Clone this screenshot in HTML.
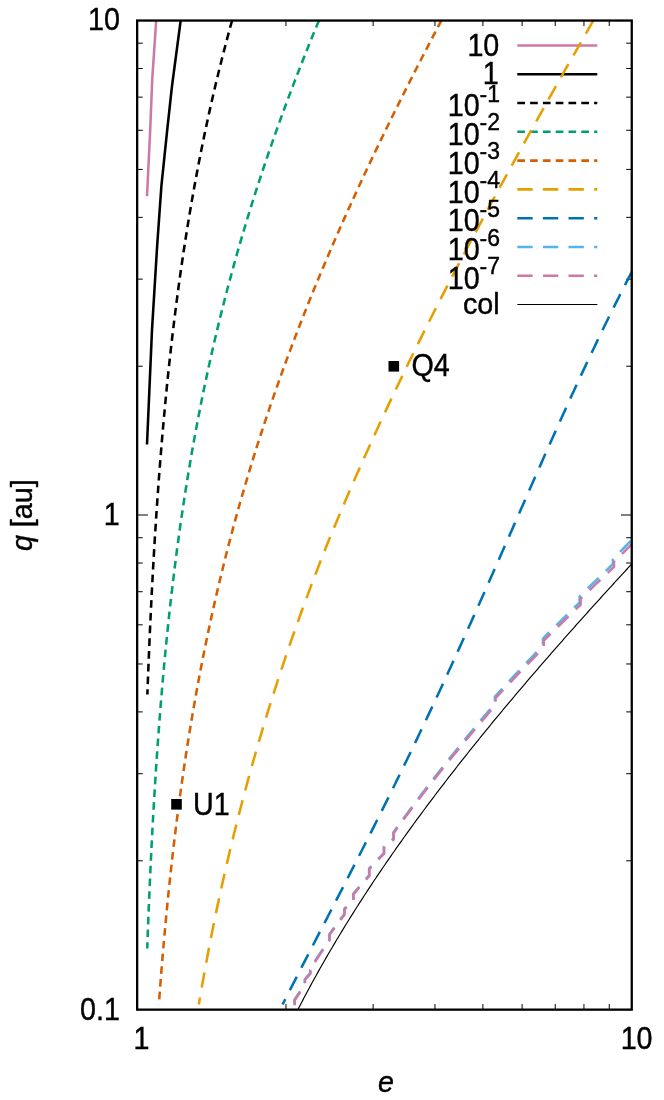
<!DOCTYPE html>
<html><head><meta charset="utf-8"><title>plot</title>
<style>html,body{margin:0;padding:0;background:#fff;}body{width:664px;height:1100px;overflow:hidden;position:relative;font-family:"Liberation Sans",sans-serif;}</style></head>
<body>
<svg width="664" height="1100" viewBox="0 0 664 1100" style="position:absolute;left:0;top:0;will-change:transform">
<rect width="664" height="1100" fill="#fff"/>
<path d="M285.98,1009.8 v-5.7 M285.98,20.4 v5.7 M373.13,1009.8 v-5.7 M373.13,20.4 v5.7 M434.96,1009.8 v-5.7 M434.96,20.4 v5.7 M482.92,1009.8 v-5.7 M482.92,20.4 v5.7 M522.11,1009.8 v-5.7 M522.11,20.4 v5.7 M555.24,1009.8 v-5.7 M555.24,20.4 v5.7 M583.94,1009.8 v-5.7 M583.94,20.4 v5.7 M609.25,1009.8 v-5.7 M609.25,20.4 v5.7 M137.0,860.78 h5.7 M631.9,860.78 h-5.7 M137.0,773.69 h5.7 M631.9,773.69 h-5.7 M137.0,711.90 h5.7 M631.9,711.90 h-5.7 M137.0,663.97 h5.7 M631.9,663.97 h-5.7 M137.0,624.82 h5.7 M631.9,624.82 h-5.7 M137.0,591.71 h5.7 M631.9,591.71 h-5.7 M137.0,563.03 h5.7 M631.9,563.03 h-5.7 M137.0,537.73 h5.7 M631.9,537.73 h-5.7 M137.0,366.23 h5.7 M631.9,366.23 h-5.7 M137.0,279.14 h5.7 M631.9,279.14 h-5.7 M137.0,217.35 h5.7 M631.9,217.35 h-5.7 M137.0,169.42 h5.7 M631.9,169.42 h-5.7 M137.0,130.27 h5.7 M631.9,130.27 h-5.7 M137.0,97.16 h5.7 M631.9,97.16 h-5.7 M137.0,68.48 h5.7 M631.9,68.48 h-5.7 M137.0,43.18 h5.7 M631.9,43.18 h-5.7 M137.0,515.00 h10.9 M631.9,515.00 h-10.9" stroke="#000" stroke-width="1" fill="none"/>
<g font-family="Liberation Sans, sans-serif" fill="#000" stroke="#000" stroke-width="0.4">
<text transform="translate(499.30,55.70) scale(1,1.08)" font-size="28.70" text-anchor="end" >10</text>
<path d="M517.3,45.50 H597.3" stroke="#CC79A7" stroke-width="2.56" fill="none"/>
<path d="M156.20,20.40 L155.93,24.40 L155.66,28.39 L155.40,32.39 L155.13,36.39 L154.86,40.38 L154.59,44.38 L154.32,48.38 L154.05,52.37 L153.79,56.37 L153.52,60.37 L153.25,64.36 L152.98,68.36 L152.71,72.36 L152.44,76.35 L152.19,80.35 L152.03,84.35 L151.87,88.34 L151.71,92.34 L151.55,96.34 L151.39,100.33 L151.23,104.33 L151.07,108.32 L150.91,112.32 L150.75,116.32 L150.59,120.31 L150.43,124.31 L150.27,128.31 L150.09,132.30 L149.90,136.30 L149.70,140.30 L149.51,144.29 L149.32,148.29 L149.12,152.29 L148.93,156.28 L148.74,160.28 L148.54,164.28 L148.35,168.27 L148.16,172.27 L147.97,176.27 L147.77,180.26 L147.58,184.26 L147.39,188.26 L147.19,192.25 L147.00,196.25" stroke="#CC79A7" stroke-width="2.56" fill="none" stroke-linejoin="round"/>
<text transform="translate(498.60,84.48) scale(1,1.08)" font-size="28.70" text-anchor="end" >1</text>
<path d="M517.3,74.28 H597.3" stroke="#000" stroke-width="2.56" fill="none"/>
<path d="M180.70,20.40 L180.17,24.36 L179.65,28.33 L179.12,32.29 L178.60,36.25 L178.07,40.22 L177.55,44.18 L177.02,48.14 L176.49,52.11 L175.97,56.07 L175.44,60.04 L174.92,64.00 L174.39,67.96 L173.87,71.93 L173.34,75.89 L172.82,79.85 L172.29,83.82 L171.81,87.78 L171.38,91.74 L170.94,95.71 L170.51,99.67 L170.08,103.63 L169.65,107.60 L169.22,111.56 L168.79,115.53 L168.36,119.49 L167.93,123.45 L167.50,127.42 L167.07,131.38 L166.65,135.34 L166.24,139.31 L165.83,143.27 L165.42,147.23 L165.01,151.20 L164.60,155.16 L164.19,159.12 L163.78,163.09 L163.37,167.05 L162.95,171.01 L162.54,174.98 L162.13,178.94 L161.72,182.91 L161.34,186.87 L161.06,190.83 L160.77,194.80 L160.49,198.76 L160.21,202.72 L159.93,206.69 L159.65,210.65 L159.36,214.61 L159.08,218.58 L158.80,222.54 L158.52,226.50 L158.23,230.47 L157.95,234.43 L157.67,238.40 L157.39,242.36 L157.12,246.32 L156.88,250.29 L156.63,254.25 L156.39,258.21 L156.15,262.18 L155.91,266.14 L155.66,270.10 L155.42,274.07 L155.18,278.03 L154.94,281.99 L154.69,285.96 L154.45,289.92 L154.21,293.89 L153.97,297.85 L153.72,301.81 L153.48,305.78 L153.24,309.74 L153.00,313.70 L152.75,317.67 L152.51,321.63 L152.27,325.59 L152.03,329.56 L151.85,333.52 L151.67,337.48 L151.50,341.45 L151.33,345.41 L151.15,349.37 L150.98,353.34 L150.81,357.30 L150.63,361.27 L150.46,365.23 L150.29,369.19 L150.12,373.16 L149.94,377.12 L149.77,381.08 L149.60,385.05 L149.42,389.01 L149.25,392.97 L149.08,396.94 L148.90,400.90 L148.73,404.86 L148.56,408.83 L148.38,412.79 L148.21,416.76 L148.04,420.72 L147.87,424.68 L147.69,428.65 L147.52,432.61 L147.35,436.57 L147.17,440.54 L147.00,444.50" stroke="#000" stroke-width="2.56" fill="none" stroke-linejoin="round"/>
<text transform="translate(500.00,116.36) scale(1,1.08)" font-size="28.70" text-anchor="end" >10<tspan dy="-13.61" font-size="22.96">-1</tspan></text>
<path d="M517.3,103.06 H597.3" stroke="#000" stroke-width="2.56" fill="none" stroke-dasharray="7.68,5.12"/>
<path d="M232.11,20.40 L231.01,24.39 L229.92,28.38 L228.84,32.37 L227.77,36.36 L226.71,40.34 L225.66,44.33 L224.62,48.32 L223.59,52.31 L222.57,56.30 L221.56,60.29 L220.56,64.28 L219.57,68.27 L218.59,72.25 L217.62,76.24 L216.66,80.23 L215.70,84.22 L214.76,88.21 L213.83,92.20 L212.91,96.19 L211.99,100.18 L211.09,104.16 L210.19,108.15 L209.31,112.14 L208.43,116.13 L207.56,120.12 L206.70,124.11 L205.85,128.10 L205.01,132.09 L204.18,136.07 L203.36,140.06 L202.54,144.05 L201.74,148.04 L200.94,152.03 L200.15,156.02 L199.37,160.01 L198.60,164.00 L197.83,167.98 L197.08,171.97 L196.33,175.96 L195.59,179.95 L194.86,183.94 L194.13,187.93 L193.42,191.92 L192.71,195.91 L192.01,199.89 L191.32,203.88 L190.63,207.87 L189.96,211.86 L189.29,215.85 L188.63,219.84 L187.97,223.83 L187.33,227.82 L186.69,231.80 L186.06,235.79 L185.43,239.78 L184.81,243.77 L184.20,247.76 L183.60,251.75 L183.00,255.74 L182.41,259.73 L181.83,263.71 L181.25,267.70 L180.68,271.69 L180.12,275.68 L179.56,279.67 L179.01,283.66 L178.47,287.65 L177.93,291.64 L177.40,295.62 L176.88,299.61 L176.36,303.60 L175.85,307.59 L175.34,311.58 L174.84,315.57 L174.35,319.56 L173.86,323.55 L173.38,327.53 L172.90,331.52 L172.43,335.51 L171.97,339.50 L171.51,343.49 L171.06,347.48 L170.61,351.47 L170.16,355.46 L169.73,359.44 L169.30,363.43 L168.87,367.42 L168.45,371.41 L168.03,375.40 L167.62,379.39 L167.21,383.38 L166.81,387.37 L166.42,391.35 L166.03,395.34 L165.64,399.33 L165.26,403.32 L164.88,407.31 L164.51,411.30 L164.14,415.29 L163.78,419.28 L163.42,423.26 L163.07,427.25 L162.72,431.24 L162.38,435.23 L162.04,439.22 L161.70,443.21 L161.37,447.20 L161.04,451.19 L160.72,455.17 L160.40,459.16 L160.08,463.15 L159.77,467.14 L159.46,471.13 L159.16,475.12 L158.86,479.11 L158.57,483.10 L158.27,487.08 L157.99,491.07 L157.70,495.06 L157.42,499.05 L157.14,503.04 L156.87,507.03 L156.60,511.02 L156.33,515.01 L156.07,518.99 L155.81,522.98 L155.56,526.97 L155.30,530.96 L155.05,534.95 L154.81,538.94 L154.56,542.93 L154.32,546.92 L154.09,550.90 L153.85,554.89 L153.62,558.88 L153.40,562.87 L153.17,566.86 L152.95,570.85 L152.73,574.84 L152.52,578.83 L152.30,582.81 L152.09,586.80 L151.89,590.79 L151.68,594.78 L151.48,598.77 L151.28,602.76 L151.08,606.75 L150.89,610.74 L150.70,614.72 L150.51,618.71 L150.32,622.70 L150.14,626.69 L149.96,630.68 L149.78,634.67 L149.60,638.66 L149.43,642.65 L149.26,646.63 L149.09,650.62 L148.92,654.61 L148.76,658.60 L148.59,662.59 L148.43,666.58 L148.27,670.57 L148.12,674.56 L147.96,678.54 L147.81,682.53 L147.66,686.52 L147.51,690.51 L147.37,694.50" stroke="#000" stroke-width="2.56" fill="none" stroke-dasharray="7.65,5.10" stroke-linejoin="round"/>
<text transform="translate(500.00,145.14) scale(1,1.08)" font-size="28.70" text-anchor="end" >10<tspan dy="-13.61" font-size="22.96">-2</tspan></text>
<path d="M517.3,131.84 H597.3" stroke="#009E73" stroke-width="2.56" fill="none" stroke-dasharray="7.68,5.12"/>
<path d="M319.01,20.40 L317.36,24.38 L315.71,28.37 L314.08,32.35 L312.45,36.33 L310.83,40.32 L309.22,44.30 L307.62,48.28 L306.02,52.27 L304.44,56.25 L302.86,60.23 L301.29,64.22 L299.73,68.20 L298.18,72.18 L296.63,76.17 L295.10,80.15 L293.57,84.13 L292.05,88.12 L290.54,92.10 L289.04,96.08 L287.55,100.07 L286.07,104.05 L284.60,108.03 L283.13,112.02 L281.68,116.00 L280.23,119.98 L278.79,123.96 L277.37,127.95 L275.95,131.93 L274.54,135.91 L273.14,139.90 L271.74,143.88 L270.36,147.86 L268.99,151.85 L267.63,155.83 L266.27,159.81 L264.93,163.80 L263.59,167.78 L262.26,171.76 L260.95,175.75 L259.64,179.73 L258.34,183.71 L257.05,187.70 L255.77,191.68 L254.50,195.66 L253.24,199.65 L251.99,203.63 L250.74,207.61 L249.51,211.60 L248.29,215.58 L247.07,219.56 L245.87,223.55 L244.67,227.53 L243.49,231.51 L242.31,235.50 L241.15,239.48 L239.99,243.46 L238.84,247.45 L237.70,251.43 L236.57,255.41 L235.45,259.40 L234.34,263.38 L233.24,267.36 L232.15,271.35 L231.07,275.33 L229.99,279.31 L228.93,283.30 L227.87,287.28 L226.83,291.26 L225.79,295.25 L224.76,299.23 L223.75,303.21 L222.74,307.19 L221.74,311.18 L220.75,315.16 L219.77,319.14 L218.79,323.13 L217.83,327.11 L216.87,331.09 L215.93,335.08 L214.99,339.06 L214.06,343.04 L213.14,347.03 L212.23,351.01 L211.33,354.99 L210.44,358.98 L209.55,362.96 L208.68,366.94 L207.81,370.93 L206.95,374.91 L206.10,378.89 L205.26,382.88 L204.43,386.86 L203.60,390.84 L202.79,394.83 L201.98,398.81 L201.18,402.79 L200.39,406.78 L199.61,410.76 L198.83,414.74 L198.06,418.73 L197.30,422.71 L196.55,426.69 L195.81,430.68 L195.07,434.66 L194.35,438.64 L193.63,442.63 L192.92,446.61 L192.21,450.59 L191.52,454.58 L190.83,458.56 L190.14,462.54 L189.47,466.53 L188.80,470.51 L188.14,474.49 L187.49,478.48 L186.85,482.46 L186.21,486.44 L185.58,490.42 L184.96,494.41 L184.34,498.39 L183.73,502.37 L183.13,506.36 L182.54,510.34 L181.95,514.32 L181.37,518.31 L180.79,522.29 L180.22,526.27 L179.66,530.26 L179.11,534.24 L178.56,538.22 L178.01,542.21 L177.48,546.19 L176.95,550.17 L176.43,554.16 L175.91,558.14 L175.40,562.12 L174.89,566.11 L174.39,570.09 L173.90,574.07 L173.42,578.06 L172.93,582.04 L172.46,586.02 L171.99,590.01 L171.53,593.99 L171.07,597.97 L170.62,601.96 L170.17,605.94 L169.73,609.92 L169.29,613.91 L168.86,617.89 L168.44,621.87 L168.02,625.86 L167.60,629.84 L167.20,633.82 L166.79,637.81 L166.39,641.79 L166.00,645.77 L165.61,649.76 L165.23,653.74 L164.85,657.72 L164.47,661.71 L164.10,665.69 L163.74,669.67 L163.38,673.65 L163.02,677.64 L162.67,681.62 L162.32,685.60 L161.98,689.59 L161.64,693.57 L161.31,697.55 L160.98,701.54 L160.66,705.52 L160.34,709.50 L160.02,713.49 L159.71,717.47 L159.40,721.45 L159.10,725.44 L158.80,729.42 L158.50,733.40 L158.21,737.39 L157.92,741.37 L157.63,745.35 L157.35,749.34 L157.08,753.32 L156.80,757.30 L156.53,761.29 L156.27,765.27 L156.00,769.25 L155.75,773.24 L155.49,777.22 L155.24,781.20 L154.99,785.19 L154.74,789.17 L154.50,793.15 L154.26,797.14 L154.03,801.12 L153.79,805.10 L153.56,809.09 L153.34,813.07 L153.11,817.05 L152.89,821.04 L152.68,825.02 L152.46,829.00 L152.25,832.99 L152.04,836.97 L151.84,840.95 L151.63,844.94 L151.43,848.92 L151.24,852.90 L151.04,856.88 L150.85,860.87 L150.66,864.85 L150.47,868.83 L150.29,872.82 L150.11,876.80 L149.93,880.78 L149.75,884.77 L149.58,888.75 L149.40,892.73 L149.23,896.72 L149.07,900.70 L148.90,904.68 L148.74,908.67 L148.58,912.65 L148.42,916.63 L148.27,920.62 L148.11,924.60 L147.96,928.58 L147.81,932.57 L147.66,936.55 L147.52,940.53 L147.37,944.52 L147.23,948.50" stroke="#009E73" stroke-width="2.56" fill="none" stroke-dasharray="7.65,5.10" stroke-linejoin="round"/>
<text transform="translate(500.00,173.92) scale(1,1.08)" font-size="28.70" text-anchor="end" >10<tspan dy="-13.61" font-size="22.96">-3</tspan></text>
<path d="M517.3,160.62 H597.3" stroke="#D55E00" stroke-width="2.56" fill="none" stroke-dasharray="7.68,5.12"/>
<path d="M441.43,20.40 L439.33,24.38 L437.23,28.37 L435.14,32.35 L433.06,36.34 L430.98,40.32 L428.90,44.31 L426.83,48.29 L424.77,52.27 L422.71,56.26 L420.66,60.24 L418.61,64.23 L416.57,68.21 L414.54,72.19 L412.51,76.18 L410.48,80.16 L408.46,84.15 L406.45,88.13 L404.44,92.12 L402.44,96.10 L400.45,100.08 L398.46,104.07 L396.48,108.05 L394.51,112.04 L392.54,116.02 L390.58,120.01 L388.62,123.99 L386.67,127.97 L384.73,131.96 L382.79,135.94 L380.86,139.93 L378.94,143.91 L377.03,147.89 L375.12,151.88 L373.22,155.86 L371.33,159.85 L369.44,163.83 L367.56,167.82 L365.69,171.80 L363.82,175.78 L361.97,179.77 L360.12,183.75 L358.28,187.74 L356.44,191.72 L354.62,195.71 L352.80,199.69 L350.98,203.67 L349.18,207.66 L347.39,211.64 L345.60,215.63 L343.82,219.61 L342.05,223.59 L340.28,227.58 L338.53,231.56 L336.78,235.55 L335.04,239.53 L333.31,243.52 L331.59,247.50 L329.88,251.48 L328.17,255.47 L326.47,259.45 L324.78,263.44 L323.10,267.42 L321.43,271.41 L319.77,275.39 L318.12,279.37 L316.47,283.36 L314.83,287.34 L313.21,291.33 L311.59,295.31 L309.98,299.29 L308.38,303.28 L306.78,307.26 L305.20,311.25 L303.63,315.23 L302.06,319.22 L300.51,323.20 L298.96,327.18 L297.42,331.17 L295.89,335.15 L294.37,339.14 L292.86,343.12 L291.36,347.11 L289.87,351.09 L288.39,355.07 L286.91,359.06 L285.45,363.04 L284.00,367.03 L282.55,371.01 L281.11,374.99 L279.69,378.98 L278.27,382.96 L276.86,386.95 L275.46,390.93 L274.08,394.92 L272.70,398.90 L271.33,402.88 L269.97,406.87 L268.62,410.85 L267.27,414.84 L265.94,418.82 L264.62,422.81 L263.31,426.79 L262.00,430.77 L260.71,434.76 L259.42,438.74 L258.15,442.73 L256.88,446.71 L255.63,450.69 L254.38,454.68 L253.14,458.66 L251.91,462.65 L250.70,466.63 L249.49,470.62 L248.29,474.60 L247.10,478.58 L245.92,482.57 L244.75,486.55 L243.58,490.54 L242.43,494.52 L241.29,498.51 L240.15,502.49 L239.03,506.47 L237.91,510.46 L236.81,514.44 L235.71,518.43 L234.62,522.41 L233.54,526.39 L232.48,530.38 L231.42,534.36 L230.36,538.35 L229.32,542.33 L228.29,546.32 L227.27,550.30 L226.25,554.28 L225.25,558.27 L224.25,562.25 L223.26,566.24 L222.28,570.22 L221.31,574.21 L220.35,578.19 L219.40,582.17 L218.46,586.16 L217.52,590.14 L216.59,594.13 L215.68,598.11 L214.77,602.09 L213.87,606.08 L212.97,610.06 L212.09,614.05 L211.22,618.03 L210.35,622.02 L209.49,626.00 L208.64,629.98 L207.80,633.97 L206.97,637.95 L206.14,641.94 L205.32,645.92 L204.52,649.91 L203.71,653.89 L202.92,657.87 L202.14,661.86 L201.36,665.84 L200.59,669.83 L199.83,673.81 L199.08,677.79 L198.33,681.78 L197.59,685.76 L196.86,689.75 L196.14,693.73 L195.42,697.72 L194.71,701.70 L194.01,705.68 L193.32,709.67 L192.63,713.65 L191.96,717.64 L191.29,721.62 L190.62,725.61 L189.96,729.59 L189.31,733.57 L188.67,737.56 L188.03,741.54 L187.41,745.53 L186.78,749.51 L186.17,753.49 L185.56,757.48 L184.96,761.46 L184.36,765.45 L183.77,769.43 L183.19,773.42 L182.62,777.40 L182.05,781.38 L181.48,785.37 L180.93,789.35 L180.38,793.34 L179.83,797.32 L179.30,801.31 L178.76,805.29 L178.24,809.27 L177.72,813.26 L177.20,817.24 L176.70,821.23 L176.19,825.21 L175.70,829.19 L175.21,833.18 L174.72,837.16 L174.24,841.15 L173.77,845.13 L173.30,849.12 L172.84,853.10 L172.38,857.08 L171.93,861.07 L171.49,865.05 L171.05,869.04 L170.61,873.02 L170.18,877.01 L169.75,880.99 L169.33,884.97 L168.92,888.96 L168.51,892.94 L168.10,896.93 L167.70,900.91 L167.31,904.89 L166.92,908.88 L166.53,912.86 L166.15,916.85 L165.77,920.83 L165.40,924.82 L165.03,928.80 L164.67,932.78 L164.31,936.77 L163.96,940.75 L163.61,944.74 L163.26,948.72 L162.92,952.71 L162.58,956.69 L162.25,960.67 L161.92,964.66 L161.60,968.64 L161.28,972.63 L160.96,976.61 L160.65,980.59 L160.34,984.58 L160.03,988.56 L159.73,992.55 L159.44,996.53 L159.14,1000.52 L158.85,1004.50" stroke="#D55E00" stroke-width="2.56" fill="none" stroke-dasharray="7.65,5.10" stroke-linejoin="round"/>
<text transform="translate(500.00,202.70) scale(1,1.08)" font-size="28.70" text-anchor="end" >10<tspan dy="-13.61" font-size="22.96">-4</tspan></text>
<path d="M517.3,189.40 H597.3" stroke="#E69F00" stroke-width="2.56" fill="none" stroke-dasharray="15.36,10.24"/>
<path d="M593.42,20.40 L591.14,24.38 L588.85,28.37 L586.57,32.35 L584.30,36.34 L582.02,40.32 L579.74,44.31 L577.47,48.29 L575.19,52.27 L572.92,56.26 L570.65,60.24 L568.39,64.23 L566.12,68.21 L563.86,72.19 L561.60,76.18 L559.35,80.16 L557.10,84.15 L554.86,88.13 L552.62,92.12 L550.38,96.10 L548.14,100.08 L545.91,104.07 L543.67,108.05 L541.44,112.04 L539.21,116.02 L536.99,120.01 L534.77,123.99 L532.55,127.97 L530.33,131.96 L528.11,135.94 L525.90,139.93 L523.69,143.91 L521.49,147.89 L519.28,151.88 L517.08,155.86 L514.89,159.85 L512.69,163.83 L510.50,167.82 L508.31,171.80 L506.13,175.78 L503.95,179.77 L501.77,183.75 L499.60,187.74 L497.43,191.72 L495.26,195.71 L493.10,199.69 L490.94,203.67 L488.78,207.66 L486.63,211.64 L484.48,215.63 L482.34,219.61 L480.20,223.59 L478.06,227.58 L475.93,231.56 L473.80,235.55 L471.68,239.53 L469.56,243.52 L467.45,247.50 L465.34,251.48 L463.23,255.47 L461.13,259.45 L459.03,263.44 L456.94,267.42 L454.85,271.41 L452.77,275.39 L450.69,279.37 L448.62,283.36 L446.55,287.34 L444.49,291.33 L442.43,295.31 L440.38,299.29 L438.34,303.28 L436.32,307.26 L434.30,311.25 L432.29,315.23 L430.28,319.22 L428.27,323.20 L426.28,327.18 L424.28,331.17 L422.30,335.15 L420.31,339.14 L418.34,343.12 L416.37,347.11 L414.41,351.09 L412.45,355.07 L410.50,359.06 L408.55,363.04 L406.61,367.03 L404.68,371.01 L402.75,374.99 L400.83,378.98 L398.91,382.96 L397.00,386.95 L395.10,390.93 L393.21,394.92 L391.32,398.90 L389.43,402.88 L387.56,406.87 L385.69,410.85 L383.83,414.84 L381.97,418.82 L380.12,422.81 L378.28,426.79 L376.44,430.77 L374.61,434.76 L372.79,438.74 L370.98,442.73 L369.17,446.71 L367.37,450.69 L365.58,454.68 L363.79,458.66 L362.01,462.65 L360.24,466.63 L358.48,470.62 L356.72,474.60 L354.97,478.58 L353.23,482.57 L351.49,486.55 L349.77,490.54 L348.05,494.52 L346.34,498.51 L344.63,502.49 L342.94,506.47 L341.25,510.46 L339.57,514.44 L337.90,518.43 L336.23,522.41 L334.58,526.39 L332.93,530.38 L331.29,534.36 L329.65,538.35 L328.03,542.33 L326.41,546.32 L324.81,550.30 L323.23,554.28 L321.67,558.27 L320.11,562.25 L318.57,566.24 L317.03,570.22 L315.50,574.21 L313.98,578.19 L312.46,582.17 L310.96,586.16 L309.46,590.14 L307.97,594.13 L306.49,598.11 L305.02,602.09 L303.55,606.08 L302.10,610.06 L300.65,614.05 L299.21,618.03 L297.78,622.02 L296.36,626.00 L294.95,629.98 L293.55,633.97 L292.15,637.95 L290.76,641.94 L289.38,645.92 L288.02,649.91 L286.65,653.89 L285.30,657.87 L283.96,661.86 L282.62,665.84 L281.30,669.83 L279.98,673.81 L278.67,677.79 L277.37,681.78 L276.08,685.76 L274.79,689.75 L273.52,693.73 L272.25,697.72 L271.00,701.70 L269.75,705.68 L268.51,709.67 L267.28,713.65 L266.05,717.64 L264.84,721.62 L263.63,725.61 L262.44,729.59 L261.25,733.57 L260.07,737.56 L258.90,741.54 L257.74,745.53 L256.58,749.51 L255.44,753.49 L254.30,757.48 L253.17,761.46 L252.05,765.45 L250.94,769.43 L249.84,773.42 L248.74,777.40 L247.66,781.38 L246.58,785.37 L245.51,789.35 L244.45,793.34 L243.40,797.32 L242.35,801.31 L241.30,805.29 L240.26,809.27 L239.23,813.26 L238.20,817.24 L237.19,821.23 L236.18,825.21 L235.18,829.19 L234.19,833.18 L233.20,837.16 L232.23,841.15 L231.26,845.13 L230.30,849.12 L229.35,853.10 L228.40,857.08 L227.47,861.07 L226.54,865.05 L225.62,869.04 L224.71,873.02 L223.81,877.01 L222.91,880.99 L222.02,884.97 L221.14,888.96 L220.27,892.94 L219.40,896.93 L218.55,900.91 L217.70,904.89 L216.85,908.88 L216.02,912.86 L215.19,916.85 L214.37,920.83 L213.56,924.82 L212.75,928.80 L211.95,932.78 L211.16,936.77 L210.38,940.75 L209.60,944.74 L208.84,948.72 L208.07,952.71 L207.32,956.69 L206.57,960.67 L205.83,964.66 L205.10,968.64 L204.37,972.63 L203.65,976.61 L202.94,980.59 L202.23,984.58 L201.53,988.56 L200.84,992.55 L200.15,996.53 L199.47,1000.52 L198.80,1004.50" stroke="#E69F00" stroke-width="2.56" fill="none" stroke-dasharray="15.14,10.09" stroke-linejoin="round"/>
<text transform="translate(500.00,231.48) scale(1,1.08)" font-size="28.70" text-anchor="end" >10<tspan dy="-13.61" font-size="22.96">-5</tspan></text>
<path d="M517.3,218.18 H597.3" stroke="#0072B2" stroke-width="2.56" fill="none" stroke-dasharray="15.36,10.24"/>
<path d="M631.90,271.65 L631.41,272.59 L630.37,274.60 L629.32,276.62 L628.28,278.64 L627.24,280.65 L626.20,282.67 L625.17,284.68 L624.14,286.70 L623.11,288.72 L622.08,290.73 L621.06,292.75 L620.04,294.77 L619.02,296.78 L618.00,298.80 L616.99,300.81 L615.98,302.83 L614.97,304.85 L613.96,306.86 L612.96,308.88 L611.96,310.90 L610.96,312.91 L609.96,314.93 L608.96,316.94 L607.97,318.96 L606.98,320.98 L605.99,322.99 L605.01,325.01 L604.02,327.03 L603.04,329.04 L602.06,331.06 L601.08,333.08 L600.11,335.09 L599.14,337.11 L598.16,339.12 L597.19,341.14 L596.23,343.16 L595.26,345.17 L594.30,347.19 L593.34,349.21 L592.38,351.22 L591.42,353.24 L590.46,355.25 L589.51,357.27 L588.55,359.29 L587.60,361.30 L586.65,363.32 L585.70,365.34 L584.76,367.35 L583.81,369.37 L582.87,371.38 L581.93,373.40 L580.99,375.42 L580.05,377.43 L579.11,379.45 L578.18,381.47 L577.25,383.48 L576.31,385.50 L575.38,387.52 L574.45,389.53 L573.53,391.55 L572.60,393.56 L571.67,395.58 L570.75,397.60 L569.83,399.61 L568.90,401.63 L567.98,403.65 L567.07,405.66 L566.15,407.68 L565.23,409.69 L564.31,411.71 L563.40,413.73 L562.49,415.74 L561.57,417.76 L560.66,419.78 L559.75,421.79 L558.84,423.81 L557.94,425.82 L557.03,427.84 L556.12,429.86 L555.22,431.87 L554.31,433.89 L553.41,435.91 L552.51,437.92 L551.60,439.94 L550.70,441.95 L549.80,443.97 L548.90,445.99 L548.00,448.00 L547.11,450.02 L546.21,452.04 L545.31,454.05 L544.42,456.07 L543.52,458.09 L542.63,460.10 L541.73,462.12 L540.84,464.13 L539.95,466.15 L539.05,468.17 L538.16,470.18 L537.27,472.20 L536.38,474.22 L535.49,476.23 L534.60,478.25 L533.71,480.26 L532.82,482.28 L531.93,484.30 L531.04,486.31 L530.16,488.33 L529.27,490.35 L528.38,492.36 L527.49,494.38 L526.61,496.39 L525.72,498.41 L524.83,500.43 L523.95,502.44 L523.06,504.46 L522.18,506.48 L521.29,508.49 L520.40,510.51 L519.52,512.53 L518.63,514.54 L517.75,516.56 L516.86,518.57 L515.98,520.59 L515.09,522.61 L514.21,524.62 L513.32,526.64 L512.44,528.66 L511.55,530.67 L510.66,532.69 L509.78,534.70 L508.89,536.72 L508.01,538.74 L507.12,540.75 L506.24,542.77 L505.35,544.79 L504.46,546.80 L503.58,548.82 L502.69,550.83 L501.80,552.85 L500.91,554.87 L500.03,556.88 L499.14,558.90 L498.25,560.92 L497.36,562.93 L496.47,564.95 L495.58,566.96 L494.69,568.98 L493.80,571.00 L492.91,573.01 L492.02,575.03 L491.13,577.05 L490.24,579.06 L489.35,581.08 L488.45,583.10 L487.56,585.11 L486.67,587.13 L485.77,589.14 L484.88,591.16 L483.98,593.18 L483.08,595.19 L482.19,597.21 L481.29,599.23 L480.39,601.24 L479.49,603.26 L478.59,605.27 L477.69,607.29 L476.79,609.31 L475.89,611.32 L474.99,613.34 L474.09,615.36 L473.18,617.37 L472.28,619.39 L471.38,621.40 L470.47,623.42 L469.56,625.44 L468.66,627.45 L467.75,629.47 L466.84,631.49 L465.93,633.50 L465.02,635.52 L464.11,637.54 L463.19,639.55 L462.28,641.57 L461.37,643.58 L460.45,645.60 L459.54,647.62 L458.62,649.63 L457.70,651.65 L456.78,653.67 L455.86,655.68 L454.94,657.70 L454.02,659.71 L453.10,661.73 L452.18,663.75 L451.25,665.76 L450.33,667.78 L449.40,669.80 L448.47,671.81 L447.54,673.83 L446.61,675.84 L445.68,677.86 L444.75,679.88 L443.82,681.89 L442.89,683.91 L441.95,685.93 L441.01,687.94 L440.08,689.96 L439.14,691.97 L438.20,693.99 L437.26,696.01 L436.32,698.02 L435.38,700.04 L434.43,702.06 L433.49,704.07 L432.54,706.09 L431.59,708.11 L430.65,710.12 L429.70,712.14 L428.75,714.15 L427.79,716.17 L426.84,718.19 L425.89,720.20 L424.93,722.22 L423.98,724.24 L423.02,726.25 L422.06,728.27 L421.10,730.28 L420.14,732.30 L419.18,734.32 L418.21,736.33 L417.25,738.35 L416.28,740.37 L415.31,742.38 L414.35,744.40 L413.38,746.41 L412.41,748.43 L411.43,750.45 L410.46,752.46 L409.49,754.48 L408.51,756.50 L407.53,758.51 L406.56,760.53 L405.58,762.55 L404.60,764.56 L403.62,766.58 L402.63,768.59 L401.65,770.61 L400.66,772.63 L399.68,774.64 L398.69,776.66 L397.70,778.68 L396.71,780.69 L395.72,782.71 L394.73,784.72 L393.74,786.74 L392.74,788.76 L391.75,790.77 L390.75,792.79 L389.75,794.81 L388.75,796.82 L387.75,798.84 L386.75,800.85 L385.75,802.87 L384.75,804.89 L383.74,806.90 L382.74,808.92 L381.73,810.94 L380.72,812.95 L379.71,814.97 L378.70,816.98 L377.69,819.00 L376.68,821.02 L375.67,823.03 L374.65,825.05 L373.64,827.07 L372.62,829.08 L371.61,831.10 L370.59,833.12 L369.57,835.13 L368.55,837.15 L367.53,839.16 L366.51,841.18 L365.49,843.20 L364.46,845.21 L363.44,847.23 L362.41,849.25 L361.39,851.26 L360.36,853.28 L359.33,855.29 L358.30,857.31 L357.28,859.33 L356.25,861.34 L355.21,863.36 L354.18,865.38 L353.15,867.39 L352.12,869.41 L351.08,871.42 L350.05,873.44 L349.02,875.46 L347.98,877.47 L346.94,879.49 L345.91,881.51 L344.87,883.52 L343.83,885.54 L342.79,887.56 L341.76,889.57 L340.72,891.59 L339.68,893.60 L338.64,895.62 L337.60,897.64 L336.55,899.65 L335.51,901.67 L334.47,903.69 L333.43,905.70 L332.39,907.72 L331.35,909.73 L330.30,911.75 L329.26,913.77 L328.22,915.78 L327.17,917.80 L326.13,919.82 L325.09,921.83 L324.04,923.85 L323.00,925.86 L321.95,927.88 L320.91,929.90 L319.87,931.91 L318.82,933.93 L317.78,935.95 L316.74,937.96 L315.69,939.98 L314.65,941.99 L313.61,944.01 L312.56,946.03 L311.52,948.04 L310.48,950.06 L309.44,952.08 L308.40,954.09 L307.36,956.11 L306.32,958.13 L305.28,960.14 L304.24,962.16 L303.20,964.17 L302.16,966.19 L301.12,968.21 L300.08,970.22 L299.05,972.24 L298.01,974.26 L296.98,976.27 L295.94,978.29 L294.91,980.30 L293.88,982.32 L292.84,984.34 L291.81,986.35 L290.78,988.37 L289.75,990.39 L288.73,992.40 L287.70,994.42 L286.67,996.43 L285.65,998.45 L284.63,1000.47 L283.60,1002.48 L282.58,1004.50" stroke="#0072B2" stroke-width="2.56" fill="none" stroke-dasharray="15.11,10.08" stroke-linejoin="round"/>
<text transform="translate(500.00,260.26) scale(1,1.08)" font-size="28.70" text-anchor="end" >10<tspan dy="-13.61" font-size="22.96">-6</tspan></text>
<path d="M517.3,246.96 H597.3" stroke="#56B4E9" stroke-width="2.56" fill="none" stroke-dasharray="15.36,10.24"/>
<path d="M294.51,1004.70 L294.51,999.70 L297.94,994.52 L301.38,989.46 L304.81,984.50 L304.81,979.30 L310.20,973.13 L310.20,970.13 L314.10,966.15 L314.10,962.55 L317.16,957.82 L320.22,953.15 L323.28,948.55 L326.34,944.01 L329.40,939.54 L329.40,934.24 L332.39,930.09 L335.39,926.01 L338.39,921.97 L341.39,917.99 L344.39,914.05 L344.39,908.75 L348.79,904.47 L353.18,900.28 L353.18,893.78 L356.36,890.01 L359.54,886.28 L362.72,882.61 L365.90,878.97 L369.08,875.38 L369.08,868.58 L372.77,864.61 L376.47,860.70 L380.17,856.83 L383.87,853.02 L383.87,846.22 L387.07,843.71 L390.26,841.23 L393.46,838.79 L393.46,832.29 L396.55,828.04 L399.63,823.81 L402.70,819.60 L405.78,815.41 L408.85,811.25 L411.93,807.11 L415.00,803.01 L418.07,798.92 L421.15,794.87 L424.22,790.84 L427.29,786.83 L430.37,782.84 L433.44,778.88 L436.52,774.94 L439.59,771.03 L442.66,767.13 L445.74,763.25 L448.81,759.40 L451.88,755.56 L454.96,751.74 L458.03,747.94 L461.11,744.16 L464.18,740.40 L467.25,736.65 L470.33,732.92 L473.40,729.21 L476.47,725.52 L479.55,721.84 L482.62,718.17 L485.69,714.52 L488.77,710.89 L491.84,707.27 L494.92,703.66 L494.92,696.66 L497.92,693.38 L500.92,690.12 L503.93,686.86 L506.93,683.62 L509.93,680.39 L512.93,677.17 L515.93,673.96 L518.94,670.76 L521.94,667.58 L524.94,664.40 L527.94,661.24 L530.94,658.08 L533.95,654.94 L536.95,651.80 L539.95,648.68 L542.95,645.56 L542.95,638.56 L546.01,635.50 L549.07,632.44 L552.12,629.39 L555.18,626.35 L558.24,623.32 L561.30,620.30 L564.35,617.29 L567.41,614.28 L570.47,611.29 L573.52,608.30 L576.58,605.32 L579.64,602.34 L579.64,596.34 L582.66,593.37 L585.68,590.41 L588.70,587.46 L591.73,584.51 L594.75,581.57 L597.77,578.63 L600.79,575.70 L603.82,572.78 L606.84,569.87 L609.86,566.96 L612.88,564.05 L612.88,559.05 L616.00,555.91 L619.11,552.77 L622.23,549.64 L625.34,546.51 L628.45,543.39 L631.57,540.28 L631.90,539.95" stroke="#56B4E9" stroke-width="2.56" fill="none" stroke-dasharray="15.03,10.02" stroke-linejoin="round"/>
<text transform="translate(500.00,289.04) scale(1,1.08)" font-size="28.70" text-anchor="end" >10<tspan dy="-13.61" font-size="22.96">-7</tspan></text>
<path d="M517.3,275.74 H597.3" stroke="#CC79A7" stroke-width="2.56" fill="none" stroke-dasharray="15.36,10.24"/>
<path d="M294.70,1005.17 L294.70,1000.17 L298.13,995.00 L301.57,989.93 L305.00,984.98 L305.00,979.78 L310.40,973.61 L310.40,970.61 L314.30,966.65 L314.30,963.05 L317.36,958.31 L320.42,953.65 L323.48,949.05 L326.54,944.52 L329.60,940.05 L329.60,934.75 L332.60,930.61 L335.60,926.53 L338.60,922.49 L341.60,918.51 L344.60,914.58 L344.60,909.28 L349.00,905.00 L353.40,900.82 L353.40,894.32 L356.58,890.55 L359.76,886.83 L362.94,883.16 L366.12,879.53 L369.30,875.94 L369.30,869.14 L373.00,865.18 L376.70,861.27 L380.40,857.41 L384.10,853.60 L384.10,846.80 L387.30,844.29 L390.50,841.82 L393.70,839.38 L393.70,832.88 L396.78,828.63 L399.87,824.41 L402.95,820.22 L406.04,816.06 L409.12,811.93 L412.21,807.82 L415.29,803.74 L418.38,799.69 L421.46,795.66 L424.55,791.66 L427.63,787.68 L430.72,783.72 L433.80,779.79 L436.89,775.88 L439.97,771.99 L443.06,768.12 L446.14,764.27 L449.23,760.44 L452.31,756.63 L455.40,752.84 L458.48,749.07 L461.57,745.32 L464.65,741.58 L467.74,737.86 L470.82,734.16 L473.91,730.48 L476.99,726.81 L480.08,723.16 L483.16,719.52 L486.25,715.90 L489.33,712.29 L492.42,708.70 L495.50,705.12 L495.50,698.12 L498.52,694.87 L501.53,691.64 L504.55,688.41 L507.56,685.20 L510.58,682.01 L513.59,678.82 L516.61,675.65 L519.62,672.48 L522.64,669.33 L525.66,666.19 L528.67,663.06 L531.69,659.94 L534.70,656.83 L537.72,653.73 L540.73,650.64 L543.75,647.55 L543.75,640.55 L546.82,637.52 L549.89,634.50 L552.96,631.49 L556.03,628.48 L559.10,625.49 L562.17,622.50 L565.25,619.52 L568.32,616.55 L571.39,613.59 L574.46,610.64 L577.53,607.69 L580.60,604.75 L580.60,598.75 L583.64,595.82 L586.67,592.89 L589.71,589.97 L592.75,587.06 L595.78,584.15 L598.82,581.25 L601.85,578.36 L604.89,575.47 L607.93,572.59 L610.96,569.71 L614.00,566.84 L614.00,561.84 L617.13,558.74 L620.26,555.63 L623.39,552.54 L626.51,549.45 L629.64,546.36 L631.90,544.14" stroke="#CC79A7" stroke-width="2.56" fill="none" stroke-dasharray="15.03,10.02" stroke-linejoin="round"/>
<text transform="translate(499.60,314.22) scale(1,1.0)" font-size="28.70" text-anchor="end" >col</text>
<path d="M517.3,304.52 H597.3" stroke="#000" stroke-width="1.15" fill="none"/>
<path d="M631.90,563.78 L631.79,563.90 L630.85,564.92 L629.91,565.94 L628.97,566.96 L628.03,567.97 L627.09,568.99 L626.15,570.01 L625.21,571.03 L624.27,572.05 L623.34,573.07 L622.40,574.08 L621.47,575.10 L620.53,576.12 L619.60,577.14 L618.66,578.16 L617.73,579.17 L616.80,580.19 L615.86,581.21 L614.93,582.23 L614.00,583.25 L613.07,584.26 L612.14,585.28 L611.21,586.30 L610.28,587.32 L609.35,588.34 L608.42,589.35 L607.49,590.37 L606.57,591.39 L605.64,592.41 L604.71,593.43 L603.79,594.44 L602.86,595.46 L601.94,596.48 L601.02,597.50 L600.09,598.52 L599.17,599.53 L598.25,600.55 L597.33,601.57 L596.40,602.59 L595.48,603.61 L594.56,604.62 L593.65,605.64 L592.73,606.66 L591.81,607.68 L590.89,608.70 L589.97,609.71 L589.06,610.73 L588.14,611.75 L587.23,612.77 L586.31,613.79 L585.40,614.80 L584.48,615.82 L583.57,616.84 L582.66,617.86 L581.75,618.88 L580.84,619.89 L579.93,620.91 L579.02,621.93 L578.11,622.95 L577.20,623.97 L576.29,624.98 L575.38,626.00 L574.48,627.02 L573.57,628.04 L572.66,629.06 L571.76,630.07 L570.86,631.09 L569.95,632.11 L569.05,633.13 L568.15,634.15 L567.25,635.16 L566.34,636.18 L565.44,637.20 L564.54,638.22 L563.65,639.24 L562.75,640.26 L561.85,641.27 L560.95,642.29 L560.06,643.31 L559.16,644.33 L558.27,645.35 L557.37,646.36 L556.48,647.38 L555.58,648.40 L554.69,649.42 L553.80,650.44 L552.91,651.45 L552.02,652.47 L551.13,653.49 L550.24,654.51 L549.35,655.53 L548.46,656.54 L547.58,657.56 L546.69,658.58 L545.81,659.60 L544.92,660.62 L544.04,661.63 L543.15,662.65 L542.27,663.67 L541.39,664.69 L540.51,665.71 L539.63,666.72 L538.75,667.74 L537.87,668.76 L536.99,669.78 L536.11,670.80 L535.23,671.81 L534.36,672.83 L533.48,673.85 L532.61,674.87 L531.73,675.89 L530.86,676.90 L529.99,677.92 L529.12,678.94 L528.25,679.96 L527.37,680.98 L526.51,681.99 L525.64,683.01 L524.77,684.03 L523.90,685.05 L523.03,686.07 L522.17,687.08 L521.30,688.10 L520.44,689.12 L519.58,690.14 L518.71,691.16 L517.85,692.17 L516.99,693.19 L516.13,694.21 L515.27,695.23 L514.41,696.25 L513.55,697.26 L512.70,698.28 L511.84,699.30 L510.98,700.32 L510.13,701.34 L509.28,702.35 L508.42,703.37 L507.57,704.39 L506.72,705.41 L505.87,706.43 L505.02,707.45 L504.17,708.46 L503.32,709.48 L502.47,710.50 L501.63,711.52 L500.78,712.54 L499.93,713.55 L499.09,714.57 L498.25,715.59 L497.40,716.61 L496.56,717.63 L495.72,718.64 L494.88,719.66 L494.04,720.68 L493.20,721.70 L492.37,722.72 L491.53,723.73 L490.69,724.75 L489.86,725.77 L489.02,726.79 L488.19,727.81 L487.36,728.82 L486.53,729.84 L485.70,730.86 L484.87,731.88 L484.04,732.90 L483.21,733.91 L482.38,734.93 L481.56,735.95 L480.73,736.97 L479.91,737.99 L479.08,739.00 L478.26,740.02 L477.44,741.04 L476.62,742.06 L475.80,743.08 L474.98,744.09 L474.16,745.11 L473.34,746.13 L472.52,747.15 L471.71,748.17 L470.89,749.18 L470.08,750.20 L469.27,751.22 L468.46,752.24 L467.64,753.26 L466.83,754.27 L466.03,755.29 L465.22,756.31 L464.41,757.33 L463.60,758.35 L462.80,759.36 L461.99,760.38 L461.19,761.40 L460.39,762.42 L459.58,763.44 L458.78,764.45 L457.98,765.47 L457.19,766.49 L456.39,767.51 L455.59,768.53 L454.79,769.54 L454.00,770.56 L453.21,771.58 L452.41,772.60 L451.62,773.62 L450.83,774.64 L450.04,775.65 L449.25,776.67 L448.46,777.69 L447.67,778.71 L446.89,779.73 L446.10,780.74 L445.32,781.76 L444.53,782.78 L443.75,783.80 L442.97,784.82 L442.19,785.83 L441.41,786.85 L440.63,787.87 L439.85,788.89 L439.08,789.91 L438.30,790.92 L437.53,791.94 L436.75,792.96 L435.98,793.98 L435.21,795.00 L434.44,796.01 L433.67,797.03 L432.90,798.05 L432.13,799.07 L431.37,800.09 L430.60,801.10 L429.84,802.12 L429.07,803.14 L428.31,804.16 L427.55,805.18 L426.79,806.19 L426.03,807.21 L425.27,808.23 L424.52,809.25 L423.76,810.27 L423.01,811.28 L422.25,812.30 L421.50,813.32 L420.75,814.34 L420.00,815.36 L419.25,816.37 L418.50,817.39 L417.75,818.41 L417.00,819.43 L416.26,820.45 L415.51,821.46 L414.77,822.48 L414.03,823.50 L413.29,824.52 L412.55,825.54 L411.81,826.55 L411.07,827.57 L410.33,828.59 L409.60,829.61 L408.86,830.63 L408.13,831.64 L407.40,832.66 L406.66,833.68 L405.93,834.70 L405.20,835.72 L404.48,836.73 L403.75,837.75 L403.02,838.77 L402.30,839.79 L401.57,840.81 L400.85,841.83 L400.13,842.84 L399.41,843.86 L398.69,844.88 L397.97,845.90 L397.25,846.92 L396.54,847.93 L395.82,848.95 L395.11,849.97 L394.40,850.99 L393.68,852.01 L392.97,853.02 L392.26,854.04 L391.56,855.06 L390.85,856.08 L390.14,857.10 L389.44,858.11 L388.73,859.13 L388.03,860.15 L387.33,861.17 L386.63,862.19 L385.93,863.20 L385.23,864.22 L384.54,865.24 L383.84,866.26 L383.15,867.28 L382.45,868.29 L381.76,869.31 L381.07,870.33 L380.38,871.35 L379.69,872.37 L379.00,873.38 L378.32,874.40 L377.63,875.42 L376.95,876.44 L376.26,877.46 L375.58,878.47 L374.90,879.49 L374.22,880.51 L373.54,881.53 L372.87,882.55 L372.19,883.56 L371.52,884.58 L370.84,885.60 L370.17,886.62 L369.50,887.64 L368.83,888.65 L368.16,889.67 L367.49,890.69 L366.82,891.71 L366.16,892.73 L365.49,893.74 L364.83,894.76 L364.17,895.78 L363.51,896.80 L362.85,897.82 L362.19,898.83 L361.53,899.85 L360.88,900.87 L360.22,901.89 L359.57,902.91 L358.92,903.92 L358.27,904.94 L357.62,905.96 L356.97,906.98 L356.32,908.00 L355.67,909.02 L355.03,910.03 L354.38,911.05 L353.74,912.07 L353.10,913.09 L352.46,914.11 L351.82,915.12 L351.18,916.14 L350.55,917.16 L349.91,918.18 L349.28,919.20 L348.64,920.21 L348.01,921.23 L347.38,922.25 L346.75,923.27 L346.12,924.29 L345.50,925.30 L344.87,926.32 L344.25,927.34 L343.62,928.36 L343.00,929.38 L342.38,930.39 L341.76,931.41 L341.14,932.43 L340.53,933.45 L339.91,934.47 L339.29,935.48 L338.68,936.50 L338.07,937.52 L337.46,938.54 L336.85,939.56 L336.24,940.57 L335.63,941.59 L335.03,942.61 L334.42,943.63 L333.82,944.65 L333.22,945.66 L332.61,946.68 L332.01,947.70 L331.42,948.72 L330.82,949.74 L330.22,950.75 L329.63,951.77 L329.03,952.79 L328.44,953.81 L327.85,954.83 L327.26,955.84 L326.67,956.86 L326.08,957.88 L325.50,958.90 L324.91,959.92 L324.33,960.93 L323.75,961.95 L323.17,962.97 L322.59,963.99 L322.01,965.01 L321.43,966.02 L320.85,967.04 L320.28,968.06 L319.70,969.08 L319.13,970.10 L318.56,971.11 L317.99,972.13 L317.42,973.15 L316.85,974.17 L316.29,975.19 L315.72,976.21 L315.16,977.22 L314.60,978.24 L314.04,979.26 L313.48,980.28 L312.92,981.30 L312.36,982.31 L311.80,983.33 L311.25,984.35 L310.69,985.37 L310.14,986.39 L309.59,987.40 L309.04,988.42 L308.49,989.44 L307.94,990.46 L307.40,991.48 L306.85,992.49 L306.31,993.51 L305.77,994.53 L305.23,995.55 L304.69,996.57 L304.15,997.58 L303.61,998.60 L303.07,999.62 L302.54,1000.64 L302.01,1001.66 L301.47,1002.67 L300.94,1003.69 L300.41,1004.71 L299.88,1005.73 L299.36,1006.75 L298.83,1007.76 L298.30,1008.78 L297.78,1009.80" stroke="#000" stroke-width="1.15" fill="none" stroke-linejoin="round"/>
</g>
<rect x="137.15" y="20.55" width="494.60" height="989.10" fill="none" stroke="#000" stroke-width="2.3"/>
<rect x="171.2" y="799" width="10.6" height="10.6" fill="#000"/>
<rect x="388.5" y="361" width="10.6" height="10.6" fill="#000"/>
<g font-family="Liberation Sans, sans-serif" fill="#000" stroke="#000" stroke-width="0.4">
<text transform="translate(193.10,814.60) scale(1,1.08)" font-size="28.70" text-anchor="start" >U1</text>
<text transform="translate(411.50,376.10) scale(1,1.08)" font-size="28.70" text-anchor="start" >Q4</text>
<text transform="translate(119.90,30.20) scale(1,1.08)" font-size="28.70" text-anchor="end" >10</text>
<text transform="translate(119.60,525.20) scale(1,1.08)" font-size="28.70" text-anchor="end" >1</text>
<text transform="translate(120.00,1020.00) scale(1,1.08)" font-size="28.70" text-anchor="end" >0.1</text>
<text transform="translate(141.50,1048.90) scale(1,1.08)" font-size="28.70" text-anchor="middle" >1</text>
<text transform="translate(636.60,1048.90) scale(1,1.08)" font-size="28.70" text-anchor="middle" >10</text>
<text transform="translate(386.00,1091.80) scale(1,1.0)" font-size="28.70" text-anchor="middle" font-style="italic">e</text>
<text transform="translate(32.3,515.2) rotate(-90)" font-size="28.7" text-anchor="middle"><tspan font-style="italic">q</tspan> [au]</text>
</g>
</svg>
</body></html>
